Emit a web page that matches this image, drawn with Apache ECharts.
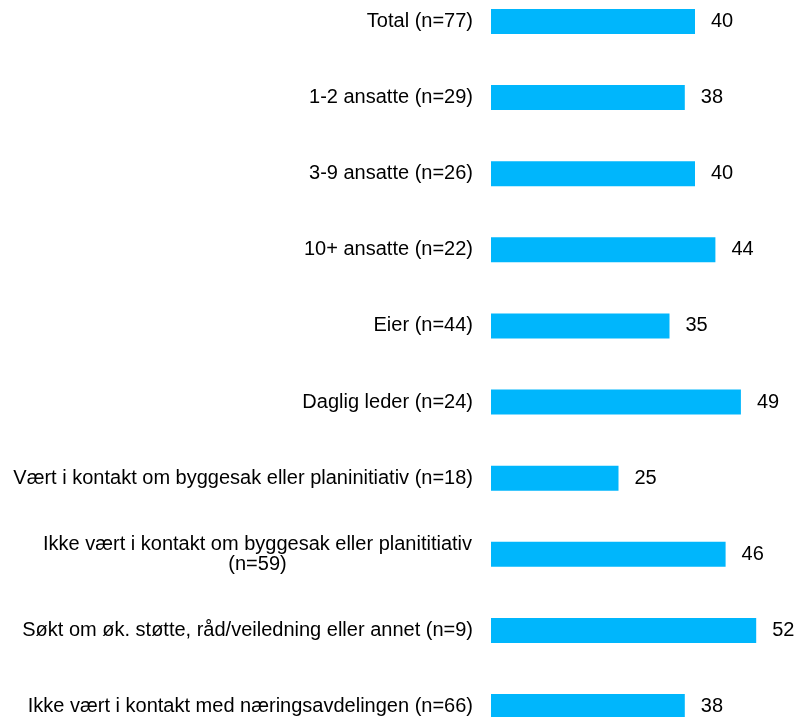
<!DOCTYPE html>
<html>
<head>
<meta charset="utf-8">
<script src="https://cdn.jsdelivr.net/npm/echarts@6/dist/echarts.min.js"></script>
<style>
  html, body { margin: 0; padding: 0; background: #fff; }
  #chart { width: 798px; height: 717px; }
</style>
</head>
<body>
<div id="chart"></div>
<script>
// kategorier (ovenfra og ned)
const categories = [
  'Total (n=77)',
  '1-2 ansatte (n=29)',
  '3-9 ansatte (n=26)',
  '10+ ansatte (n=22)',
  'Eier (n=44)',
  'Daglig leder (n=24)',
  'Vært i kontakt om byggesak eller planinitiativ (n=18)',
  'Ikke vært i kontakt om byggesak eller planititiativ\n(n=59)',
  'Søkt om øk. støtte, råd/veiledning eller annet (n=9)',
  'Ikke vært i kontakt med næringsavdelingen (n=66)'
]
// verdier
const values = [40, 38, 40, 44, 35, 49, 25, 46, 52, 38]

const chart = echarts.init(document.getElementById('chart'))

chart.setOption({
  animation: false,
  textStyle: { fontFamily: 'Liberation Sans, Arial, sans-serif' },
  // første og siste søyle ligger på grid-kanten (boundaryGap: false)
  grid: {
    left: 491,
    right: 1,
    top: 21.5,
    bottom: 10.5,
    containLabel: false
  },
  xAxis: {
    type: 'value',
    min: 0,
    max: 60,
    show: false
  },
  yAxis: {
    type: 'category',
    inverse: true,
    boundaryGap: false,
    data: categories,
    axisLine: { show: false },
    axisTick: { show: false },
    axisLabel: {
      margin: 18,
      color: '#000',
      fontSize: 20,
      lineHeight: 20,
      // flerlinjede etiketter: sentrer linjene mot hverandre
      formatter: function (v) {
        if (v.indexOf('\n') < 0) return v
        return v.split('\n').map(s => '{c|' + s + '}').join('\n')
      },
      rich: {
        c: { width: 431, align: 'center', fontSize: 20, lineHeight: 20, color: '#000' }
      }
    }
  },
  series: [{
    type: 'bar',
    data: values,
    barWidth: 25,
    itemStyle: { color: '#00B6FC' },
    label: {
      show: true,
      position: 'right',
      distance: 16,
      color: '#000',
      fontSize: 20
    }
  }]
})
</script>
</body>
</html>
